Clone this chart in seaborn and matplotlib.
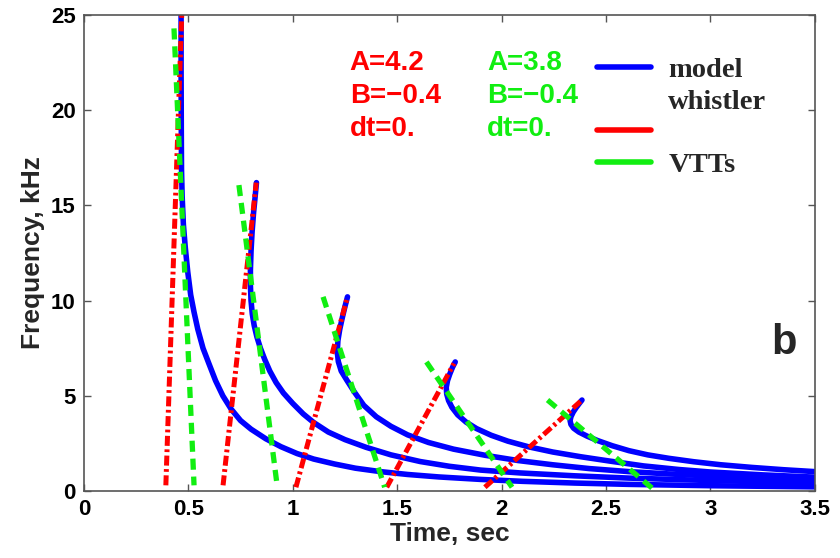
import matplotlib
matplotlib.use("Agg")
import matplotlib.pyplot as plt
from matplotlib.lines import Line2D
import seaborn as sns
import pandas as pd

# ---------------- data ----------------
# model whistler traces (time in s, frequency in kHz)
w1_t = [0.465, 0.465, 0.466, 0.467, 0.470, 0.476, 0.485, 0.497, 0.511, 0.527, 0.545, 0.570, 0.598, 0.630, 0.665, 0.705,
        0.750, 0.800, 0.870, 0.943, 1.02, 1.10, 1.20, 1.30, 1.42, 1.55, 1.70, 1.90, 2.10, 2.35, 2.61, 3.0, 3.5]
w1_f = [25.0, 22.0, 19.0, 16.9, 15.5, 14.0, 12.8, 11.5, 10.3, 9.4, 8.5, 7.5, 6.7, 5.8, 5.0, 4.3,
        3.7, 3.25, 2.75, 2.33, 1.97, 1.68, 1.42, 1.2, 1.02, 0.87, 0.74, 0.61, 0.51, 0.42, 0.35, 0.28, 0.22]
w2_t = [0.826, 0.820, 0.812, 0.805, 0.800, 0.797, 0.797, 0.800, 0.806, 0.815, 0.828, 0.845, 0.866, 0.890, 0.920, 0.955,
        1.00, 1.05, 1.10, 1.17, 1.25, 1.35, 1.47, 1.61, 1.75, 1.90, 2.09, 2.35, 2.61, 3.0, 3.5]
w2_f = [16.2, 15.5, 14.6, 13.6, 12.6, 11.6, 10.8, 10.0, 9.3, 8.7, 8.1, 7.5, 6.9, 6.3, 5.7, 5.15,
        4.6, 4.05, 3.6, 3.1, 2.7, 2.3, 1.9, 1.55, 1.3, 1.1, 0.95, 0.8, 0.68, 0.55, 0.43]
w3_t = [1.262, 1.250, 1.237, 1.225, 1.216, 1.213, 1.218, 1.232, 1.260, 1.295, 1.34, 1.40, 1.47, 1.55, 1.65, 1.77,
        1.92, 2.08, 2.245, 2.42, 2.61, 2.80, 3.0, 3.25, 3.5]
w3_f = [10.2, 9.7, 9.1, 8.5, 7.9, 7.3, 6.8, 6.3, 5.8, 5.2, 4.5, 3.9, 3.4, 2.95, 2.55, 2.2,
        1.88, 1.6, 1.38, 1.18, 1.02, 0.9, 0.79, 0.68, 0.59]
w4_t = [1.778, 1.765, 1.752, 1.741, 1.735, 1.737, 1.746, 1.762, 1.79, 1.83, 1.88, 1.95, 2.03, 2.13, 2.245, 2.38,
        2.52, 2.68, 2.85, 3.0, 3.25, 3.5]
w4_f = [6.78, 6.5, 6.15, 5.8, 5.45, 5.1, 4.75, 4.4, 4.0, 3.62, 3.28, 2.93, 2.62, 2.32, 2.05, 1.8,
        1.57, 1.32, 1.13, 1.0, 0.85, 0.73]
w5_t = [2.385, 2.372, 2.357, 2.343, 2.332, 2.328, 2.332, 2.345, 2.37, 2.41, 2.46, 2.53, 2.61, 2.70, 2.80, 2.92,
        3.05, 3.20, 3.35, 3.5]
w5_f = [4.78, 4.6, 4.38, 4.15, 3.9, 3.7, 3.5, 3.3, 3.1, 2.88, 2.65, 2.38, 2.12, 1.9, 1.72, 1.54,
        1.38, 1.24, 1.12, 1.02]

# VTT fits A=4.2 (red): start and end points of each segment
red_t = [[0.392, 0.468], [0.666, 0.825], [1.015, 1.262], [1.45, 1.772], [1.92, 2.385]]
red_f = [[0.3, 25.0], [0.3, 16.2], [0.2, 10.2], [0.2, 6.7], [0.2, 4.78]]
# VTT fits A=3.8 (green)
grn_t = [[0.431, 0.527], [0.742, 0.926], [1.145, 1.44], [1.64, 2.05], [2.22, 2.72]]
grn_f = [[24.3, 0.3], [16.07, 0.2], [10.2, 0.2], [6.78, 0.2], [4.78, 0.16]]

red_text = ["A=4.2", "B=\u22120.4", "dt=0."]
grn_text = ["A=3.8", "B=\u22120.4", "dt=0."]
legend_labels = ["model", "whistler", "", "VTTs"]
x_ticks = [0, 0.5, 1, 1.5, 2, 2.5, 3, 3.5]
y_ticks = [0, 5, 10, 15, 20, 25]

# ---------------- tables ----------------
def to_df(ts, fs):
    rows = []
    for i, (tt, ff) in enumerate(zip(ts, fs)):
        for k, (a, b) in enumerate(zip(tt, ff)):
            rows.append({"unit": i, "order": k, "t": a, "f": b})
    return pd.DataFrame(rows)

blue_df = to_df([w1_t, w2_t, w3_t, w4_t, w5_t], [w1_f, w2_f, w3_f, w4_f, w5_f])
red_df = to_df(red_t, red_f)
grn_df = to_df(grn_t, grn_f)

# ---------------- style ----------------
sns.set_style("ticks")
plt.rcParams["font.family"] = ["Liberation Sans", "DejaVu Sans"]
plt.rcParams["font.weight"] = "bold"
plt.rcParams["lines.solid_capstyle"] = "round"
plt.rcParams["lines.solid_joinstyle"] = "round"

BLUE = "#0000ff"
RED = "#ff0000"
GREEN = "#11ee11"

fig = plt.figure(figsize=(8.4, 5.58), dpi=100)
ax = fig.add_axes([0.100, 0.120, 0.870, 0.853])

sns.lineplot(data=blue_df, x="t", y="f", units="unit", estimator=None, sort=False,
             color=BLUE, linewidth=4.0, ax=ax, legend=False)
sns.lineplot(data=red_df, x="t", y="f", units="unit", estimator=None, sort=False,
             color=RED, linewidth=3.6, ax=ax, legend=False)
sns.lineplot(data=grn_df, x="t", y="f", units="unit", estimator=None, sort=False,
             color=GREEN, linewidth=3.8, ax=ax, legend=False)

# line styles for the VTT lines
n_blue = 5
for j, ln in enumerate(ax.get_lines()):
    if n_blue <= j < n_blue + 5:
        ln.set_dashes((2.0, 0.7, 0.55, 0.7))
    elif j >= n_blue + 5:
        ln.set_dashes((2.1, 1.3))

ax.set_xlim(0, 3.5)
ax.set_ylim(0, 25)
ax.set_xticks(x_ticks)
ax.set_xticklabels([f"{v:g}" for v in x_ticks])
ax.set_yticks(y_ticks)
ax.tick_params(direction="in", length=5, width=1, top=True, right=True,
               labelsize=16, pad=6, colors="#555555", labelcolor="black")
for s in ax.spines.values():
    s.set_linewidth(1.2)
    s.set_color("#555555")
ax.set_xlabel("Time, sec", fontsize=19, fontweight="bold", labelpad=1)
ax.set_ylabel("Frequency, kHz", fontsize=19, fontweight="bold", labelpad=4)

# annotations
for k, txt in enumerate(red_text):
    ax.text(1.273, 22.5 - 1.73 * k, txt, color=RED, fontsize=20, fontweight="bold",
            va="center", ha="left")
for k, txt in enumerate(grn_text):
    ax.text(1.93, 22.5 - 1.73 * k, txt, color=GREEN, fontsize=20, fontweight="bold",
            va="center", ha="left")
ax.text(3.35, 7.77, "b", fontsize=30, fontweight="bold", ha="center", va="center")

# legend
handles = [Line2D([], [], color=BLUE, lw=4),
           Line2D([], [], color="none"),
           Line2D([], [], color=RED, lw=4),
           Line2D([], [], color=GREEN, lw=4)]
ax.legend(handles, legend_labels, loc="upper left", bbox_to_anchor=(0.702, 0.912),
          frameon=False, borderpad=0, borderaxespad=0, handlelength=1.9,
          handletextpad=0.6, labelspacing=0.2,
          prop={"family": "Liberation Serif", "weight": "bold", "size": 20.5})

fig.savefig("out.png", dpi=100)
